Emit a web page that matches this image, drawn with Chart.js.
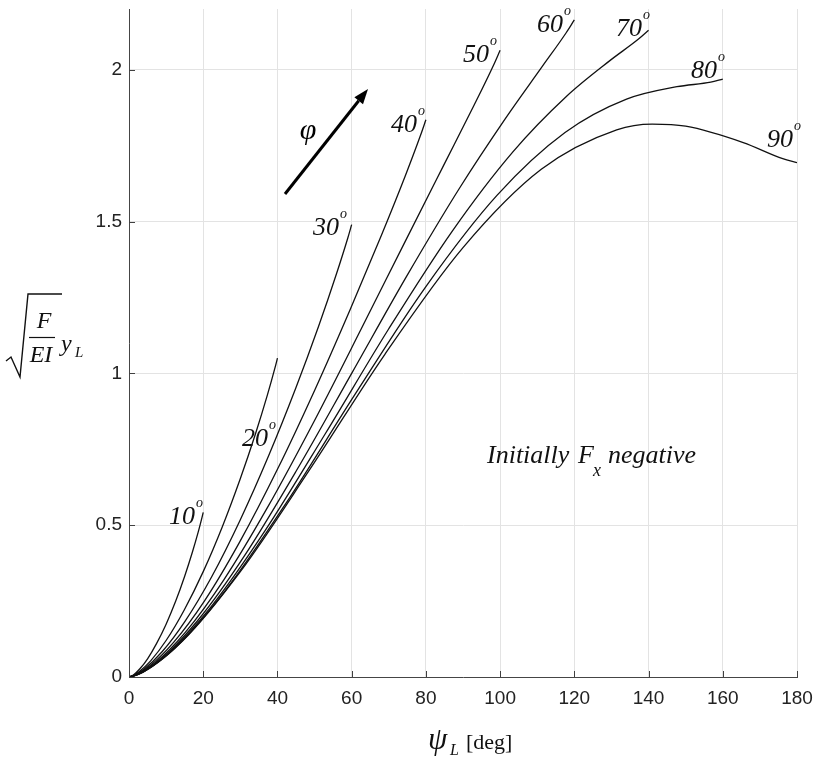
<!DOCTYPE html>
<html>
<head>
<meta charset="utf-8">
<script src="https://cdn.jsdelivr.net/npm/chart.js@4.4.1/dist/chart.umd.min.js"></script>
<style>
  html, body { margin: 0; padding: 0; background: #fff; }
</style>
</head>
<body>
<canvas id="chart" width="816" height="764"></canvas>
<script>
// Load angle of each curve (deg)
const phiDeg = [10, 20, 30, 40, 50, 60, 70, 80, 90];

// Tip rotation psi_L (deg) and normalised tip deflection sqrt(F/EI)*y_L
const psi10 = [0, 0.34, 1.34, 2.93, 5.00, 7.41, 10.00, 12.59, 15.00, 17.07, 18.66, 19.66, 20.00];
const ky10  = [0, 0.001, 0.008, 0.027, 0.060, 0.110, 0.174, 0.250, 0.332, 0.411, 0.478, 0.525, 0.542];

const psi20 = [0, 0.69, 2.70, 5.89, 10.04, 14.85, 20.00, 25.15, 29.96, 34.11, 37.30, 39.31, 40.00];
const ky20  = [0, 0.002, 0.017, 0.054, 0.121, 0.220, 0.347, 0.495, 0.652, 0.802, 0.929, 1.017, 1.050];

const psi30 = [0, 1.05, 4.09, 8.91, 15.13, 22.32, 30.00, 37.68, 44.87, 51.09, 55.91, 58.96, 60.00];
const ky30  = [0, 0.003, 0.026, 0.083, 0.184, 0.331, 0.518, 0.730, 0.949, 1.155, 1.328, 1.446, 1.490];

const psi40 = [0, 1.42, 5.54, 12.01, 20.31, 29.84, 40.00, 50.16, 59.69, 67.99, 74.46, 78.58, 80.00];
const ky40  = [0, 0.005, 0.036, 0.114, 0.250, 0.445, 0.684, 0.948, 1.213, 1.454, 1.651, 1.785, 1.835];

const psi50 = [0, 1.81, 7.06, 15.22, 25.60, 37.44, 50.00, 62.56, 74.40, 84.78, 92.94, 98.19, 100.00];
const ky50  = [0, 0.006, 0.047, 0.148, 0.321, 0.561, 0.845, 1.146, 1.434, 1.685, 1.882, 2.014, 2.064];

const psi60 = [0, 2.24, 8.68, 18.59, 31.05, 45.13, 60.00, 74.87, 88.96, 101.41, 111.32, 117.76, 120.00];
const ky60  = [0, 0.008, 0.060, 0.187, 0.398, 0.680, 1.000, 1.321, 1.608, 1.839, 2.010, 2.121, 2.164];

const psi70 = [0, 2.71, 10.43, 22.15, 36.67, 52.93, 70.00, 87.07, 103.33, 117.85, 129.57, 137.29, 140.00];
const ky70  = [0, 0.010, 0.076, 0.232, 0.482, 0.802, 1.147, 1.468, 1.728, 1.912, 2.030, 2.101, 2.130];

const psi80 = [0, 3.24, 12.35, 25.93, 42.51, 60.85, 80.00, 99.15, 117.49, 134.07, 147.65, 156.76, 160.00];
const ky80  = [0, 0.013, 0.095, 0.284, 0.576, 0.930, 1.286, 1.586, 1.793, 1.903, 1.944, 1.959, 1.969];

const psi90 = [0, 3.84, 14.48, 30.00, 48.59, 68.91, 90.00, 111.09, 131.41, 140.99, 150.00, 165.52, 176.16, 180.00];
const ky90  = [0, 0.016, 0.119, 0.347, 0.681, 1.062, 1.414, 1.672, 1.802, 1.821, 1.814, 1.760, 1.707, 1.694];

// Axis ticks
const xTicks = [0, 20, 40, 60, 80, 100, 120, 140, 160, 180];
const yTicks = [0, 0.5, 1, 1.5, 2];

const curves = [
  [psi10, ky10], [psi20, ky20], [psi30, ky30], [psi40, ky40], [psi50, ky50],
  [psi60, ky60], [psi70, ky70], [psi80, ky80], [psi90, ky90]
];

// Where each phi label sits (left edge, baseline), in canvas pixels
const labelSpots = [
  [169, 524], [242, 446], [313, 235], [391, 132], [463, 62],
  [537, 32], [616, 36], [691, 78], [767, 147]
];

const datasets = curves.map(([xs, ys], i) => ({
  label: phiDeg[i] + '°',
  data: xs.map((v, k) => ({ x: v, y: ys[k] })),
  borderColor: '#111',
  borderWidth: 1.3,
  pointRadius: 0,
  fill: false,
  cubicInterpolationMode: 'monotone'
}));

const serif = '"Liberation Serif", "Times New Roman", serif';
const sans = '"Liberation Sans", Arial, sans-serif';

// Inward ticks, curve labels, arrow and axis titles
const overlay = {
  id: 'overlay',
  afterDraw(chart) {
    const { ctx, chartArea: a, scales } = chart;
    const xs = scales.x, ys = scales.y;
    ctx.save();

    ctx.strokeStyle = '#404040';
    ctx.lineWidth = 1;
    ctx.beginPath();
    xTicks.forEach(v => {
      const px = Math.round(xs.getPixelForValue(v)) + 0.5;
      ctx.moveTo(px, a.bottom);
      ctx.lineTo(px, a.bottom - 6);
    });
    yTicks.forEach(v => {
      const py = Math.round(ys.getPixelForValue(v)) + 0.5;
      ctx.moveTo(a.left, py);
      ctx.lineTo(a.left + 6, py);
    });
    ctx.stroke();

    ctx.fillStyle = '#111';
    ctx.textBaseline = 'alphabetic';
    ctx.textAlign = 'left';

    // phi labels with superscript degree mark
    phiDeg.forEach((phi, i) => {
      const [lx, ly] = labelSpots[i];
      ctx.font = 'italic 26px ' + serif;
      const txt = String(phi);
      ctx.fillText(txt, lx, ly);
      const w = ctx.measureText(txt).width;
      ctx.font = 'italic 14px ' + serif;
      ctx.fillText('o', lx + w + 1, ly - 17);
    });

    // Initially F_x negative
    ctx.font = 'italic 26px ' + serif;
    ctx.fillText('Initially', 487, 463);
    ctx.fillText('F', 578, 463);
    ctx.font = 'italic 18px ' + serif;
    ctx.fillText('x', 593, 476);
    ctx.font = 'italic 26px ' + serif;
    ctx.fillText('negative', 608, 463);

    // increasing-phi arrow
    const x0 = 285, y0 = 194, x1 = 368, y1 = 89;
    const len = Math.hypot(x1 - x0, y1 - y0);
    const ux = (x1 - x0) / len, uy = (y1 - y0) / len;
    const hl = 15, hw = 5.5;
    ctx.strokeStyle = '#000';
    ctx.lineWidth = 3;
    ctx.beginPath();
    ctx.moveTo(x0, y0);
    ctx.lineTo(x1 - ux * hl, y1 - uy * hl);
    ctx.stroke();
    ctx.fillStyle = '#000';
    ctx.beginPath();
    ctx.moveTo(x1, y1);
    ctx.lineTo(x1 - ux * hl - uy * hw, y1 - uy * hl + ux * hw);
    ctx.lineTo(x1 - ux * hl + uy * hw, y1 - uy * hl - ux * hw);
    ctx.closePath();
    ctx.fill();
    ctx.font = 'italic 30px ' + serif;
    ctx.textAlign = 'center';
    ctx.fillText('φ', 308, 139);

    // y title: sqrt(F / EI) y_L
    ctx.fillStyle = '#111';
    ctx.strokeStyle = '#111';
    ctx.lineWidth = 1.4;
    ctx.beginPath();
    ctx.moveTo(6, 361);
    ctx.lineTo(11, 357);
    ctx.lineTo(20, 377);
    ctx.lineTo(28, 294);
    ctx.lineTo(62, 294);
    ctx.stroke();
    ctx.lineWidth = 1.2;
    ctx.beginPath();
    ctx.moveTo(29, 337.5);
    ctx.lineTo(55, 337.5);
    ctx.stroke();
    ctx.font = 'italic 24px ' + serif;
    ctx.textAlign = 'center';
    ctx.fillText('F', 44, 328);
    ctx.fillText('EI', 41, 362);
    ctx.textAlign = 'left';
    ctx.fillText('y', 61, 351);
    ctx.font = 'italic 15px ' + serif;
    ctx.fillText('L', 75, 357);

    // x title: psi_L [deg]
    ctx.font = 'italic 31px ' + serif;
    ctx.fillText('ψ', 428, 749);
    ctx.font = 'italic 16px ' + serif;
    ctx.fillText('L', 450, 755);
    ctx.font = '22px ' + serif;
    ctx.fillText('[deg]', 466, 749);

    ctx.restore();
  }
};

new Chart(document.getElementById('chart'), {
  type: 'line',
  data: { datasets },
  options: {
    responsive: false,
    animation: false,
    devicePixelRatio: 1,
    layout: { padding: { top: 9, right: 19, left: 0, bottom: 0 } },
    plugins: { legend: { display: false }, tooltip: { enabled: false } },
    scales: {
      x: {
        type: 'linear',
        min: 0,
        max: 180,
        afterFit: s => {
          s.height = 87;
          s.paddingLeft = 0;
          s.paddingRight = 0;
        },
        afterBuildTicks: s => { s.ticks = xTicks.map(v => ({ value: v })); },
        ticks: {
          color: '#222',
          padding: 10,
          font: { family: sans, size: 19 }
        },
        grid: { color: '#e3e3e3', drawTicks: false },
        border: { display: true, color: '#454545', width: 1 }
      },
      y: {
        type: 'linear',
        min: 0,
        max: 2.2,
        afterFit: s => {
          s.width = 129;
          s.paddingTop = 0;
          s.paddingBottom = 0;
        },
        afterBuildTicks: s => { s.ticks = yTicks.map(v => ({ value: v })); },
        ticks: {
          color: '#222',
          padding: 7,
          callback: v => String(v),
          font: { family: sans, size: 19 }
        },
        grid: { color: '#e3e3e3', drawTicks: false },
        border: { display: true, color: '#454545', width: 1 }
      }
    }
  },
  plugins: [overlay]
});
</script>
</body>
</html>
